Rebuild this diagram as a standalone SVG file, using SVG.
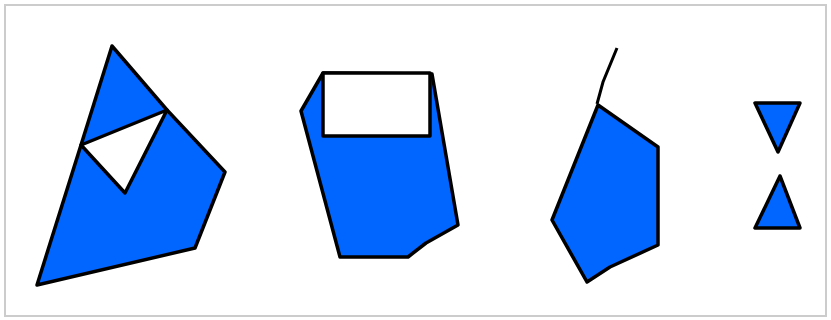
<svg xmlns="http://www.w3.org/2000/svg" width="831" height="320" viewBox="0 0 831 320">
<style>
.b{fill:#0066ff;stroke:#000;stroke-width:3.5;stroke-linejoin:round}
.w{fill:#fff;stroke:#000;stroke-width:3.5;stroke-linejoin:round}
</style>
<rect x="0" y="0" width="831" height="320" fill="#fff"/>
<rect x="5" y="5" width="821" height="311" fill="#fff" stroke="#cccccc" stroke-width="2"/>
<g id="shape1">
<polygon class="b" points="112,46 167,110 225,172 195,248 37,285 81,145"/>
<polygon class="w" points="81,145 167,110 125,193"/>
</g>
<g id="shape2">
<polygon class="b" points="323,73 301,111 340,257 408,257 426,243 458,225 432,74"/>
<rect class="w" x="323" y="73" width="107" height="63" stroke-width="4"/>
</g>
<g id="shape3">
<polyline points="617,48 603,82 597,104" fill="none" stroke="#000" stroke-width="3"/>
<polygon class="b" points="598,105 658,147 658,245 610,267 587,282 552,220"/>
</g>
<g id="shape4">
<polygon class="b" points="755,103 800,103 778,152"/>
<polygon class="b" points="780,176 755,228 800,228"/>
</g>
</svg>
